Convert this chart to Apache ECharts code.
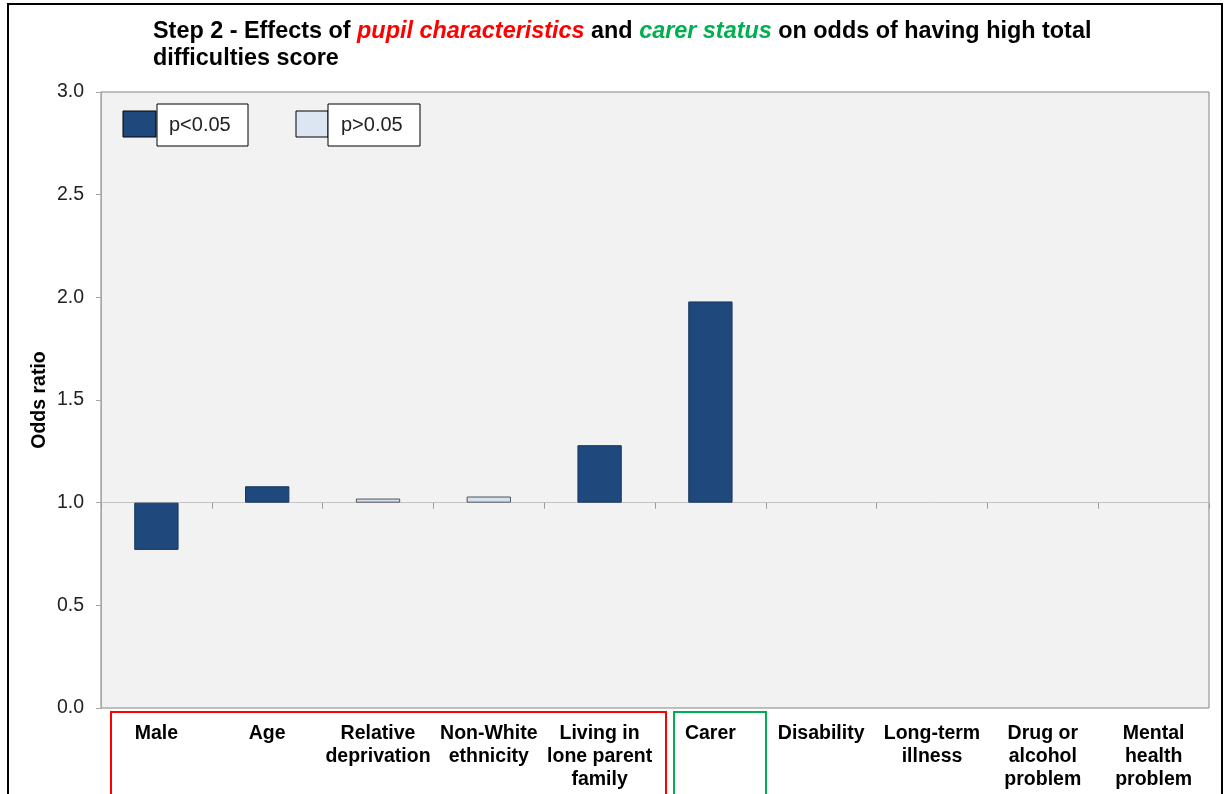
<!DOCTYPE html>
<html><head><meta charset="utf-8">
<script src="https://cdn.jsdelivr.net/npm/echarts@6/dist/echarts.min.js"></script>
<style>html,body{margin:0;padding:0;background:#fff}#c{width:1225px;height:794px}</style>
</head><body><div id="c"></div>
<script>
// ---- data ----
const categories = ['Male', 'Age', 'Relative\ndeprivation', 'Non-White\nethnicity', 'Living in\nlone parent\nfamily', 'Carer', 'Disability', 'Long-term\nillness', 'Drug or\nalcohol\nproblem', 'Mental\nhealth\nproblem'];
const oddsRatios = [0.77, 1.08, 1.02, 1.03, 1.28, 1.98, null, null, null, null];
const significant = [true, true, false, false, true, true, null, null, null, null];
const seriesNames = ['p<0.05', 'p>0.05'];
const yTickLabels = ['0.0', '0.5', '1.0', '1.5', '2.0', '2.5', '3.0'];
const REF = 1.0; // bars rise/fall from odds ratio 1.0

// ---- chart ----
const F = '"Liberation Sans", Arial, sans-serif';
const DARK = '#1f497d', LIGHT = '#d3e1f3';
const sigData = oddsRatios.map((v, i) => (v != null && significant[i] === true) ? +(v - REF).toFixed(3) : '-');
const nsData = oddsRatios.map((v, i) => (v != null && significant[i] === false) ? +(v - REF).toFixed(3) : '-');

const chart = echarts.init(document.getElementById('c'), null, {renderer: 'canvas'});
chart.setOption({
  animation: false,
  backgroundColor: '#ffffff',
  title: {
    left: 148, top: 13,
    text: '{n|Step 2 - Effects of }{r|pupil characteristics}{n| and }{g|carer status}{n| on odds of having high total}\n{n|difficulties score}',
    textStyle: {
      rich: {
        n: {fontSize: 23.4, fontWeight: 'bold', color: '#000', fontFamily: F, lineHeight: 27},
        r: {fontSize: 23.4, fontWeight: 'bold', fontStyle: 'italic', color: '#ff0000', fontFamily: F, lineHeight: 27},
        g: {fontSize: 23.4, fontWeight: 'bold', fontStyle: 'italic', color: '#00b050', fontFamily: F, lineHeight: 27}
      }
    }
  },
  grid: {left: 101, right: 16, top: 92, bottom: 86, show: true, backgroundColor: '#f2f2f2', borderColor: '#858585', borderWidth: 1},
  xAxis: [
    {
      type: 'category', data: categories, position: 'bottom',
      axisLine: {onZero: true, lineStyle: {color: '#c4c4c4', width: 1}},
      axisTick: {show: true, length: 6, lineStyle: {color: '#9a9a9a'}},
      axisLabel: {show: false}, splitLine: {show: false}
    },
    {
      type: 'category', data: categories, position: 'bottom',
      axisLine: {show: false, onZero: false}, axisTick: {show: false},
      axisLabel: {interval: 0, margin: 14, fontSize: 19.5, fontWeight: 'bold', color: '#000', lineHeight: 23, fontFamily: F, align: 'center'}
    }
  ],
  yAxis: {
    type: 'value', min: -REF, max: 3 - REF, interval: 0.5,
    name: 'Odds ratio', nameLocation: 'middle', nameRotate: 90, nameGap: 51, nameMoveOverlap: false,
    nameTextStyle: {fontSize: 19.5, fontWeight: 'bold', color: '#000', fontFamily: F},
    axisLine: {show: true, lineStyle: {color: '#a6a6a6'}},
    axisTick: {show: true, length: 5, lineStyle: {color: '#a6a6a6'}},
    axisLabel: {
      margin: 17, fontSize: 19.5, color: '#222', fontFamily: F,
      formatter: v => yTickLabels[Math.round((v + REF) / 0.5)]
    },
    splitLine: {show: false}
  },
  series: [
    {
      name: seriesNames[0], type: 'bar', xAxisIndex: 0, data: sigData, barWidth: '40%', barGap: '-100%',
      itemStyle: {color: DARK, borderColor: '#17365d', borderWidth: 1}
    },
    {
      name: seriesNames[1], type: 'bar', xAxisIndex: 0, data: nsData, barWidth: '40%', barGap: '-100%',
      itemStyle: {color: LIGHT, borderColor: '#555555', borderWidth: 1}
    }
  ],
  graphic: [
    {type: 'rect', silent: true, z: 100, shape: {x: 8, y: 4, width: 1214, height: 820}, style: {fill: 'none', stroke: '#000', lineWidth: 2}},
    // legend
    {type: 'rect', z: 100, shape: {x: 123, y: 111, width: 33, height: 26}, style: {fill: DARK, stroke: '#000', lineWidth: 1}},
    {type: 'rect', z: 100, shape: {x: 157, y: 104, width: 91, height: 42}, style: {fill: '#fff', stroke: '#000', lineWidth: 1}},
    {type: 'text', z: 101, x: 169, y: 125, style: {text: seriesNames[0], fontSize: 20, fontFamily: F, fill: '#222', verticalAlign: 'middle'}},
    {type: 'rect', z: 100, shape: {x: 296, y: 111, width: 32, height: 26}, style: {fill: '#dce6f2', stroke: '#000', lineWidth: 1}},
    {type: 'rect', z: 100, shape: {x: 328, y: 104, width: 92, height: 42}, style: {fill: '#fff', stroke: '#000', lineWidth: 1}},
    {type: 'text', z: 101, x: 341, y: 125, style: {text: seriesNames[1], fontSize: 20, fontFamily: F, fill: '#222', verticalAlign: 'middle'}},
    // group boxes
    {type: 'rect', z: 100, shape: {x: 111, y: 712, width: 555, height: 100}, style: {fill: 'none', stroke: '#ff0000', lineWidth: 2}},
    {type: 'rect', z: 100, shape: {x: 674, y: 712, width: 92, height: 100}, style: {fill: 'none', stroke: '#00b050', lineWidth: 2}}
  ]
});
</script>
</body></html>
